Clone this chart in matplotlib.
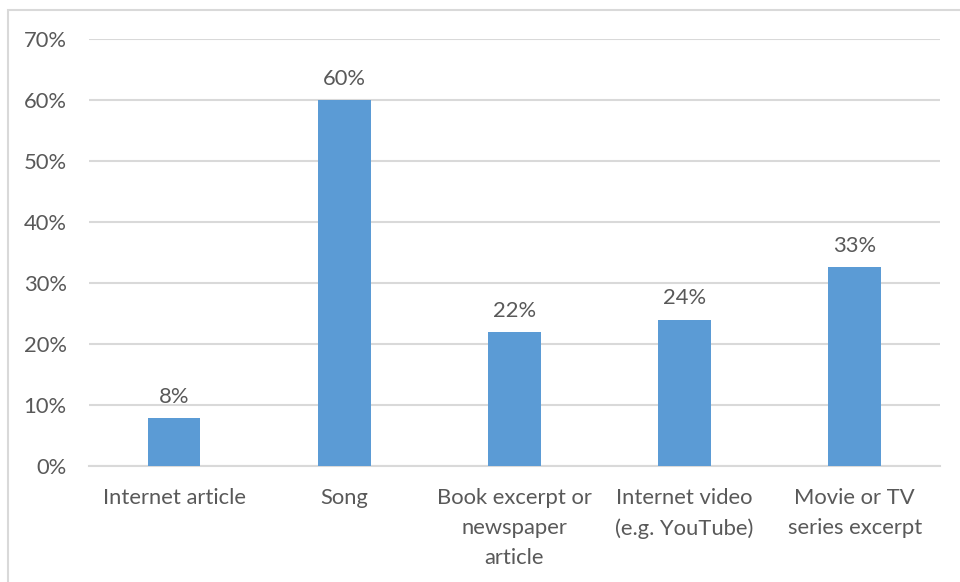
import matplotlib.pyplot as plt
from matplotlib.patches import Rectangle

# survey shares per content type (percent)
categories = ["Internet article", "Song", "Book excerpt or\nnewspaper\narticle",
              "Internet video\n(e.g. YouTube)", "Movie or TV\nseries excerpt"]
shares = [7.9, 60.0, 22.0, 24.0, 32.6]
yticks = [0, 10, 20, 30, 40, 50, 60, 70]

barColor = "#5B9BD5"
gridColor = "#D9D9D9"
textColor = "#595959"

plt.rcParams['font.family'] = ['Lato', 'DejaVu Sans']

fig = plt.figure(figsize=(9.6, 5.82), dpi=100)
ax = fig.add_axes([0.0927, 0.1993, 0.8863, 0.7337])

x = list(range(len(categories)))
ax.bar(x, shares, width=0.31, color=barColor, zorder=3)

for xi, v in zip(x, shares):
    ax.annotate("%.0f%%" % v, (xi, v), textcoords="offset points", xytext=(0, 8),
                ha='center', va='bottom', fontsize=15.8, color=textColor)

ax.set_xlim(-0.5, len(categories) - 0.5)
ax.set_ylim(0, 70)
ax.set_yticks(yticks)
ax.set_yticklabels(["%d%%" % t for t in yticks])
ax.set_xticks(x)
ax.set_xticklabels(categories, linespacing=1.62, va='top')

ax.grid(axis='y', color=gridColor, linewidth=1.5, zorder=0)
ax.tick_params(axis='both', length=0, labelsize=15.8, labelcolor=textColor)
ax.tick_params(axis='y', pad=16)
ax.tick_params(axis='x', pad=16)
for side in ['top', 'right', 'left']:
    ax.spines[side].set_visible(False)
ax.spines['bottom'].set_color(gridColor)
ax.spines['bottom'].set_linewidth(1.5)

# light frame around the chart area
fig.patches.append(Rectangle((8 / 960, -0.1), 1.2, 1.1 - 10 / 582, transform=fig.transFigure,
                             fill=False, edgecolor=gridColor, linewidth=1.5))

fig.savefig("out.png", dpi=100)
